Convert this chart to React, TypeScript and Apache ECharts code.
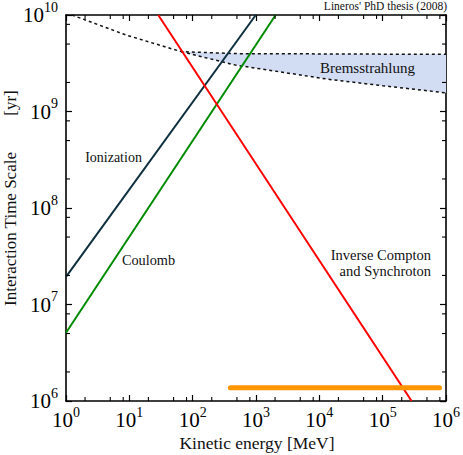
import React, { useEffect, useRef } from "react";
import * as echarts from "echarts";

// ---- data (Kinetic energy in MeV, time scale in yr) ----
const ionizationE = [1, 993];
const ionizationT = [1.93e7, 1e10];
const coulombE = [1, 2040];
const coulombT = [5.1e6, 1e10];
const icE = [28.6, 2.86e5];
const icT = [1e10, 1e6];
const orangeE = [394, 7.9e5];
const orangeT = [1.37e6, 1.37e6];
const bremsLeftE = [1.24, 8.9, 66];
const bremsLeftT = [1e10, 6.2e9, 4.17e9];
const bremsE = [66, 472, 13700, 1e5, 1e6];
const bremsHigh = [4.17e9, 3.98e9, 3.95e9, 3.93e9, 3.92e9];
const bremsLow = [4.17e9, 3.03e9, 2.16e9, 1.85e9, 1.56e9];
const xDecades = [0, 1, 2, 3, 4, 5];
const yDecades = [6, 7, 8, 9];
const minorMultipliers = [2, 5, 8];

const SERIF = "'Liberation Serif', 'Times New Roman', serif";

const zip = (a: number[], b: number[]) => a.map((v, i) => [v, b[i]]);

export default function App() {
  const ref = useRef<HTMLDivElement>(null);
  useEffect(() => {
    if (!ref.current) return;
    const chart = echarts.init(ref.current, null, { renderer: "svg" });

    const xMinor: number[][] = [];
    xDecades.forEach((d) => minorMultipliers.forEach((m) => xMinor.push([m * Math.pow(10, d), 1e6])));
    const yMinor: number[][] = [];
    yDecades.forEach((d) => minorMultipliers.forEach((m) => yMinor.push([1, m * Math.pow(10, d)])));

    const fmt = (v: number) => `{b|10}{s|${Math.round(Math.log10(v))}}`;
    const rich = {
      b: { fontSize: 21, fontFamily: SERIF, color: "#000", lineHeight: 30 },
      s: { fontSize: 14, fontFamily: SERIF, color: "#000", lineHeight: 14, verticalAlign: "top" },
    };
    const axLine = { show: true, onZero: false, lineStyle: { color: "#000", width: 1.6 } };
    const axTick = { show: true, inside: true, length: 6, lineStyle: { color: "#000", width: 1.2 } };

    const bandData = bremsE.map((e, i) => [e, bremsLow[i], bremsHigh[i]]);
    const txt = (x: number, y: number, text: string, size: number, align: string, extra: any = {}) => ({
      type: "text", x, y, z: 50, ...extra,
      style: { text, fontFamily: SERIF, fontSize: size, fill: "#111", align, verticalAlign: "middle" },
    });

    const option: any = {
      animation: false,
      grid: { left: 66, top: 15, right: 14, bottom: 54, containLabel: false },
      xAxis: [
        {
          type: "log", logBase: 10, min: 1, max: 1e6, position: "bottom",
          axisLine: axLine, axisTick: axTick, splitLine: { show: false },
          axisLabel: { margin: 4, formatter: fmt, rich },
        },
        {
          type: "log", logBase: 10, min: 1, max: 1e6, position: "top",
          axisLine: axLine, axisTick: axTick, splitLine: { show: false },
          axisLabel: { show: false },
        },
      ],
      yAxis: [
        {
          type: "log", logBase: 10, min: 1e6, max: 1e10, position: "left",
          axisLine: axLine, axisTick: axTick, splitLine: { show: false },
          axisLabel: { margin: 8, formatter: fmt, rich },
        },
        {
          type: "log", logBase: 10, min: 1e6, max: 1e10, position: "right",
          axisLine: axLine, axisTick: axTick, splitLine: { show: false },
          axisLabel: { show: false },
        },
      ],
      series: [
        {
          type: "custom",
          name: "band",
          z: 1,
          clip: true,
          data: bandData,
          encode: { x: 0, y: [1, 2] },
          renderItem: (params: any, api: any) => {
            if (params.dataIndex !== 0) return null;
            const pts: number[][] = [];
            bandData.forEach((d) => pts.push(api.coord([d[0], d[2]])));
            for (let i = bandData.length - 1; i >= 0; i--) pts.push(api.coord([bandData[i][0], bandData[i][1]]));
            return { type: "polygon", shape: { points: pts }, style: { fill: "#d2dcf3", stroke: "none" } };
          },
        },
        {
          type: "line", name: "brems-upper", z: 2, symbol: "none",
          data: zip(bremsLeftE.concat(bremsE.slice(1)), bremsLeftT.concat(bremsHigh.slice(1))),
          lineStyle: { color: "#111", width: 1.5, type: [3, 3] },
        },
        {
          type: "line", name: "brems-lower", z: 2, symbol: "none",
          data: zip(bremsE, bremsLow),
          lineStyle: { color: "#111", width: 1.5, type: [3, 3] },
        },
        {
          type: "line", name: "Ionization", z: 3, symbol: "none",
          data: zip(ionizationE, ionizationT),
          lineStyle: { color: "#0d2f3e", width: 2 },
        },
        {
          type: "line", name: "Coulomb", z: 3, symbol: "none",
          data: zip(coulombE, coulombT),
          lineStyle: { color: "#008a00", width: 2 },
        },
        {
          type: "line", name: "IC", z: 3, symbol: "none",
          data: zip(icE, icT),
          lineStyle: { color: "#ff0000", width: 2 },
        },
        {
          type: "line", name: "orange", z: 3, symbol: "none",
          data: zip(orangeE, orangeT),
          lineStyle: { color: "#ff9500", width: 5, cap: "round" },
        },
        {
          type: "custom", name: "xminor", z: 4, clip: false,
          data: xMinor,
          renderItem: (params: any, api: any) => {
            const cs = params.coordSys;
            const p = api.coord([api.value(0), 1e6]);
            const st = { stroke: "#000", lineWidth: 1.1 };
            return {
              type: "group",
              children: [
                { type: "line", shape: { x1: p[0], y1: cs.y + cs.height, x2: p[0], y2: cs.y + cs.height - 4 }, style: st },
                { type: "line", shape: { x1: p[0], y1: cs.y, x2: p[0], y2: cs.y + 4 }, style: st },
              ],
            };
          },
        },
        {
          type: "custom", name: "yminor", z: 4, clip: false,
          data: yMinor,
          renderItem: (params: any, api: any) => {
            const cs = params.coordSys;
            const p = api.coord([1, api.value(1)]);
            const st = { stroke: "#000", lineWidth: 1.1 };
            return {
              type: "group",
              children: [
                { type: "line", shape: { x1: cs.x, y1: p[1], x2: cs.x + 4, y2: p[1] }, style: st },
                { type: "line", shape: { x1: cs.x + cs.width, y1: p[1], x2: cs.x + cs.width - 4, y2: p[1] }, style: st },
              ],
            };
          },
        },
      ],
      graphic: [
        txt(447, 6, "Lineros' PhD thesis (2008)", 11.5, "right"),
        txt(367.5, 68, "Bremsstrahlung", 15, "center"),
        txt(113.5, 157, "Ionization", 14, "center"),
        txt(148.5, 260, "Coulomb", 14.3, "center"),
        txt(431, 255, "Inverse Compton", 14.5, "right"),
        txt(431, 271, "and Synchroton", 14.5, "right"),
        txt(257, 443, "Kinetic energy [MeV]", 17.5, "center"),
        txt(10, 229, "Interaction Time Scale", 17, "center", { rotation: Math.PI / 2 }),
        txt(10, 103, "[yr]", 17, "center", { rotation: Math.PI / 2 }),
      ],
    };
    chart.setOption(option);
    return () => chart.dispose();
  }, []);
  return (
    <div
      ref={ref}
      style={{ position: "fixed", left: 0, top: 0, width: 463, height: 455, background: "#fff" }}
    />
  );
}
